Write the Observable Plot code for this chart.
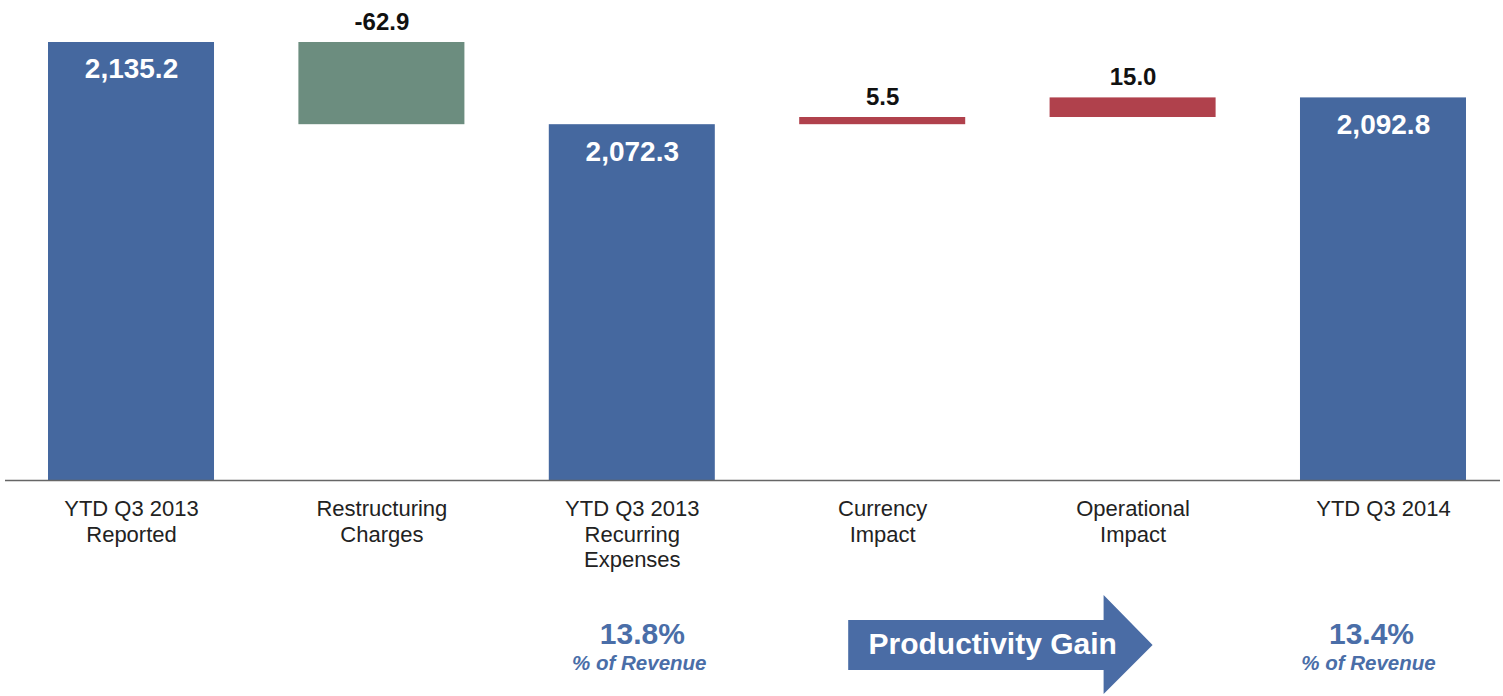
<!DOCTYPE html>
<html>
<head>
<meta charset="utf-8">
<script src="https://cdn.jsdelivr.net/npm/d3@7"></script>
<script src="https://cdn.jsdelivr.net/npm/@observablehq/plot@0.6"></script>
<style>
  body { margin: 0; background: #ffffff; }
  #chart svg { display: block; }
</style>
</head>
<body>
<div id="chart"></div>
<script>
// ---- data ----
const categories = [
  "YTD Q3 2013\nReported",
  "Restructuring\nCharges",
  "YTD Q3 2013\nRecurring\nExpenses",
  "Currency\nImpact",
  "Operational\nImpact",
  "YTD Q3 2014"
];
const values = [2135.2, -62.9, 2072.3, 5.5, 15.0, 2092.8];
const kinds = ["total", "decrease", "total", "increase", "increase", "total"];
const valueLabels = ["2,135.2", "-62.9", "2,072.3", "5.5", "15.0", "2,092.8"];
const axisBase = 1800;
const shareCategories = [categories[2], categories[5]];
const shareValues = ["13.8%", "13.4%"];
const shareCaption = "% of Revenue";
const arrowText = "Productivity Gain";

// ---- build waterfall rows ----
let running = 0;
const rows = categories.map((c, i) => {
  let y1, y2;
  if (kinds[i] === "total") { y1 = axisBase; y2 = values[i]; running = values[i]; }
  else { y1 = running; y2 = running + values[i]; running = y2; }
  return { category: c, kind: kinds[i], y1, y2, label: valueLabels[i] };
});

const font = "'Liberation Sans', Arial, Helvetica, sans-serif";
const blue = "#45689f";
const shareBlue = "#4a6ea8";

// custom block-arrow mark positioned from the x scale
function blockArrow(index, scales, values, dims) {
  const bw = (scales.scales && scales.scales.x && scales.scales.x.bandwidth) ||
             (typeof scales.x.bandwidth === "function" ? scales.x.bandwidth() : 0);
  const c1 = scales.x(categories[3]) + bw / 2;
  const c2 = scales.x(categories[4]) + bw / 2;
  const fb = dims.height - dims.marginBottom;
  const x0 = c1 - 34, xh = c2 - 29, xt = c2 + 20;
  const st = fb + 140, sb = fb + 190, ht = fb + 115, hb = fb + 214, mid = fb + 165;
  const path = d3.create("svg:path")
    .attr("d", `M${x0},${st}L${xh},${st}L${xh},${ht}L${xt},${mid}L${xh},${hb}L${xh},${sb}L${x0},${sb}Z`)
    .attr("fill", "#4a6ca5");
  return path.node();
}

const marks = [
  Plot.barY(rows, { x: "category", y1: "y1", y2: "y2", fill: "kind" }),
  Plot.ruleY([axisBase], { stroke: "#666666", strokeWidth: 1.6 }),
  Plot.text(rows.filter(d => d.kind === "total"), {
    x: "category", y: "y2", text: "label", fill: "white", fontWeight: "bold",
    fontSize: 28, lineAnchor: "top", dy: 16, fontFamily: font
  }),
  Plot.text(rows.filter(d => d.kind !== "total"), {
    x: "category", y: d => Math.max(d.y1, d.y2), text: "label", fill: "#111111",
    fontWeight: "bold", fontSize: 24, lineAnchor: "top", dy: -30, fontFamily: font
  }),
  Plot.text(categories, {
    x: d => d, text: d => d, frameAnchor: "bottom", lineAnchor: "top", dy: 18,
    fontSize: 22, lineHeight: 1.15, fill: "#222222", fontFamily: font
  }),
  blockArrow,
  Plot.text([arrowText], {
    x: () => categories[3], text: d => d, frameAnchor: "bottom", lineAnchor: "middle",
    dx: 110, dy: 164, fontSize: 30, fontWeight: "bold", fill: "white", fontFamily: font
  })
];

const shareDx = [10, -12];
shareCategories.forEach((c, i) => {
  marks.push(Plot.text([c], {
    x: d => d, text: () => shareValues[i], frameAnchor: "bottom", lineAnchor: "top",
    dx: shareDx[i], dy: 142, fontSize: 30, fontWeight: "bold", fill: shareBlue, fontFamily: font
  }));
  marks.push(Plot.text([c], {
    x: d => d, text: () => shareCaption, frameAnchor: "bottom", lineAnchor: "top",
    dx: shareDx[i] - 3, dy: 175, fontSize: 20.5, fontWeight: "bold", fontStyle: "italic",
    fill: shareBlue, fontFamily: font
  }));
});

const chart = Plot.plot({
  width: 1503,
  height: 696,
  marginTop: 42,
  marginBottom: 216,
  marginLeft: 5,
  marginRight: 3,
  style: { fontFamily: font, background: "white", overflow: "visible" },
  x: { type: "band", domain: categories, range: [48, 1466], paddingInner: 0.337, paddingOuter: 0, axis: null, round: false },
  y: { domain: [axisBase, 2135.2], axis: null },
  color: { domain: ["total", "decrease", "increase"], range: [blue, "#6c8d7f", "#b0414c"] },
  marks
});
document.getElementById("chart").appendChild(chart);
</script>
</body>
</html>
